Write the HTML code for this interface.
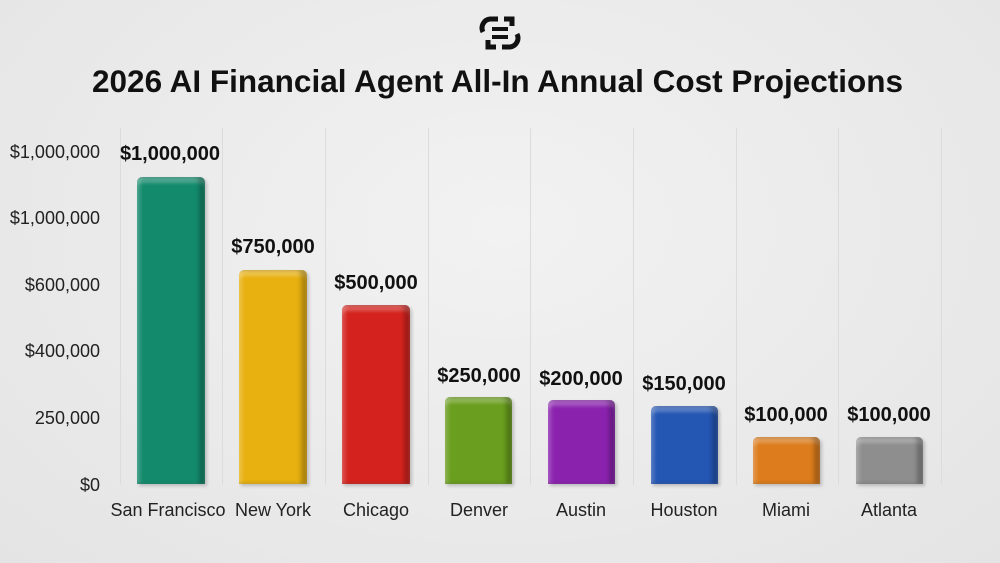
<!DOCTYPE html><html><head><style>
body{margin:0;width:1000px;height:563px;overflow:hidden;background:radial-gradient(ellipse at 50% 40%,#f2f2f2,#e4e4e4);font-family:"Liberation Sans",sans-serif;position:relative}
.a{position:absolute}
.t{left:0;width:995px;text-align:center;top:63px;font-size:31.5px;font-weight:bold;color:#111}
.g{top:128px;height:357px;width:1px;background:#dcdcdc}
.y{right:900px;font-size:18px;color:#222;text-align:right;white-space:nowrap}
.b{border-radius:5px 5px 0 0;bottom:79px;box-shadow:inset -6px 0 4px rgba(0,0,0,.25),inset 4px 0 3px rgba(255,255,255,.15),inset 0 6px 3px rgba(255,255,255,.25),2px 2px 3px rgba(0,0,0,.2)}
.v{font-size:20px;font-weight:bold;color:#111;width:140px;text-align:center}
.x{font-size:18px;color:#222;width:140px;text-align:center;top:500px}
</style></head><body>
<svg class="a" style="left:478px;top:14px" width="44" height="38" viewBox="0 0 44 38"><g fill="none" stroke="#111" stroke-width="5"><path d="M20 5 H12 A9 9 0 0 0 5 18"/><path d="M24 33 H32 A9 9 0 0 0 39 20"/><path d="M26 5 H34 V12"/><path d="M18 33 H10 V26"/></g><rect x="14" y="13" width="16" height="4" fill="#111"/><rect x="14" y="21" width="16" height="4" fill="#111"/></svg>
<div class="a t">2026 AI Financial Agent All-In Annual Cost Projections</div>
<div class="a g" style="left:120px"></div><div class="a g" style="left:222px"></div><div class="a g" style="left:325px"></div><div class="a g" style="left:428px"></div><div class="a g" style="left:530px"></div><div class="a g" style="left:633px"></div><div class="a g" style="left:736px"></div><div class="a g" style="left:838px"></div><div class="a g" style="left:941px"></div>
<div class="a y" style="top:142px">$1,000,000</div>
<div class="a y" style="top:208px">$1,000,000</div>
<div class="a y" style="top:275px">$600,000</div>
<div class="a y" style="top:341px">$400,000</div>
<div class="a y" style="top:408px">250,000</div>
<div class="a y" style="top:475px">$0</div>
<div class="a b" style="left:137px;width:68px;top:177px;background:#138a6c"></div>
<div class="a b" style="left:239px;width:68px;top:270px;background:#e8b110"></div>
<div class="a b" style="left:342px;width:68px;top:305px;background:#d4231e"></div>
<div class="a b" style="left:445px;width:67px;top:397px;background:#6a9e1e"></div>
<div class="a b" style="left:548px;width:67px;top:400px;background:#8a22ae"></div>
<div class="a b" style="left:651px;width:67px;top:406px;background:#2456b4"></div>
<div class="a b" style="left:753px;width:67px;top:437px;background:#dc7c1c"></div>
<div class="a b" style="left:856px;width:67px;top:437px;background:#8e8e8e"></div>
<div class="a v" style="left:100px;top:143px">$1,000,000</div>
<div class="a v" style="left:203px;top:236px">$750,000</div>
<div class="a v" style="left:306px;top:272px">$500,000</div>
<div class="a v" style="left:409px;top:365px">$250,000</div>
<div class="a v" style="left:511px;top:368px">$200,000</div>
<div class="a v" style="left:614px;top:373px">$150,000</div>
<div class="a v" style="left:716px;top:404px">$100,000</div>
<div class="a v" style="left:819px;top:404px">$100,000</div>
<div class="a x" style="left:98px">San Francisco</div>
<div class="a x" style="left:203px">New York</div>
<div class="a x" style="left:306px">Chicago</div>
<div class="a x" style="left:409px">Denver</div>
<div class="a x" style="left:511px">Austin</div>
<div class="a x" style="left:614px">Houston</div>
<div class="a x" style="left:716px">Miami</div>
<div class="a x" style="left:819px">Atlanta</div>
</body></html>
